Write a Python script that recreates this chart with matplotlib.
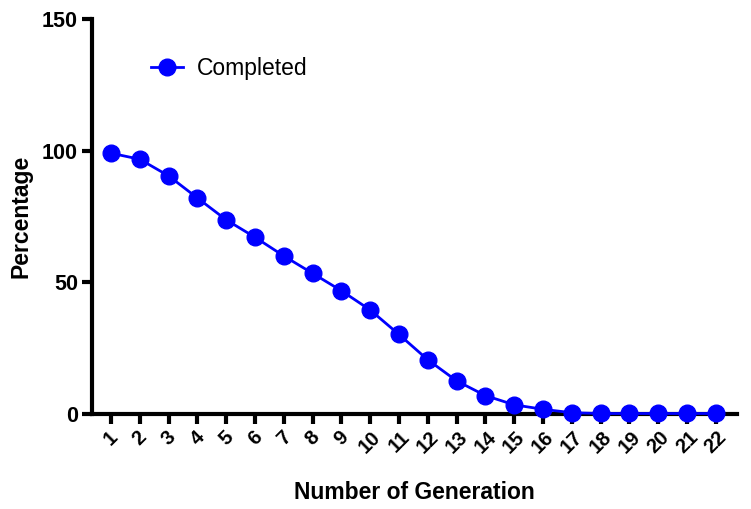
import numpy as np
import matplotlib.pyplot as plt

plt.rcParams['font.family'] = ['Liberation Sans', 'DejaVu Sans']

generation = list(range(1, 23))
completed = [99, 96.7, 90.4, 82, 73.7, 67.1, 60, 53.4, 46.8, 39.5, 30.2, 20.6,
             12.6, 7, 3.5, 1.8, 0.5, 0.2, 0.2, 0.2, 0.2, 0.2]

fig = plt.figure(figsize=(7.51, 5.09), dpi=100)
ax = fig.add_axes([0.1225, 0.1866, 0.8585, 0.7764])

ax.plot(generation, completed, color='#0000FF', marker='o', markersize=12,
        linewidth=2, label='Completed', clip_on=False, zorder=3)

ax.set_xlim(0.34, 22.73)
ax.set_ylim(0, 150)
ax.set_yticks([0, 50, 100, 150])
ax.set_xticks(generation)
ax.set_xticklabels([str(g) for g in generation], rotation=45, ha='center',
                   fontsize=14.5, fontweight='bold')
for lbl in ax.get_yticklabels():
    lbl.set_fontsize(15.5)
    lbl.set_fontweight('bold')

for s in ['top', 'right']:
    ax.spines[s].set_visible(False)
for s in ['left', 'bottom']:
    ax.spines[s].set_linewidth(3)
ax.tick_params(width=3, length=7, direction='out', pad=3)

ax.set_xlabel('Number of Generation', fontsize=16.5, fontweight='bold', labelpad=17)
ax.set_ylabel('Percentage', fontsize=16.5, fontweight='bold', labelpad=7)

ax.legend(loc='center left', bbox_to_anchor=(0.06, 0.875), frameon=False,
          fontsize=16.5, handlelength=1.4, handletextpad=0.6)

plt.savefig('out.png', dpi=100)
